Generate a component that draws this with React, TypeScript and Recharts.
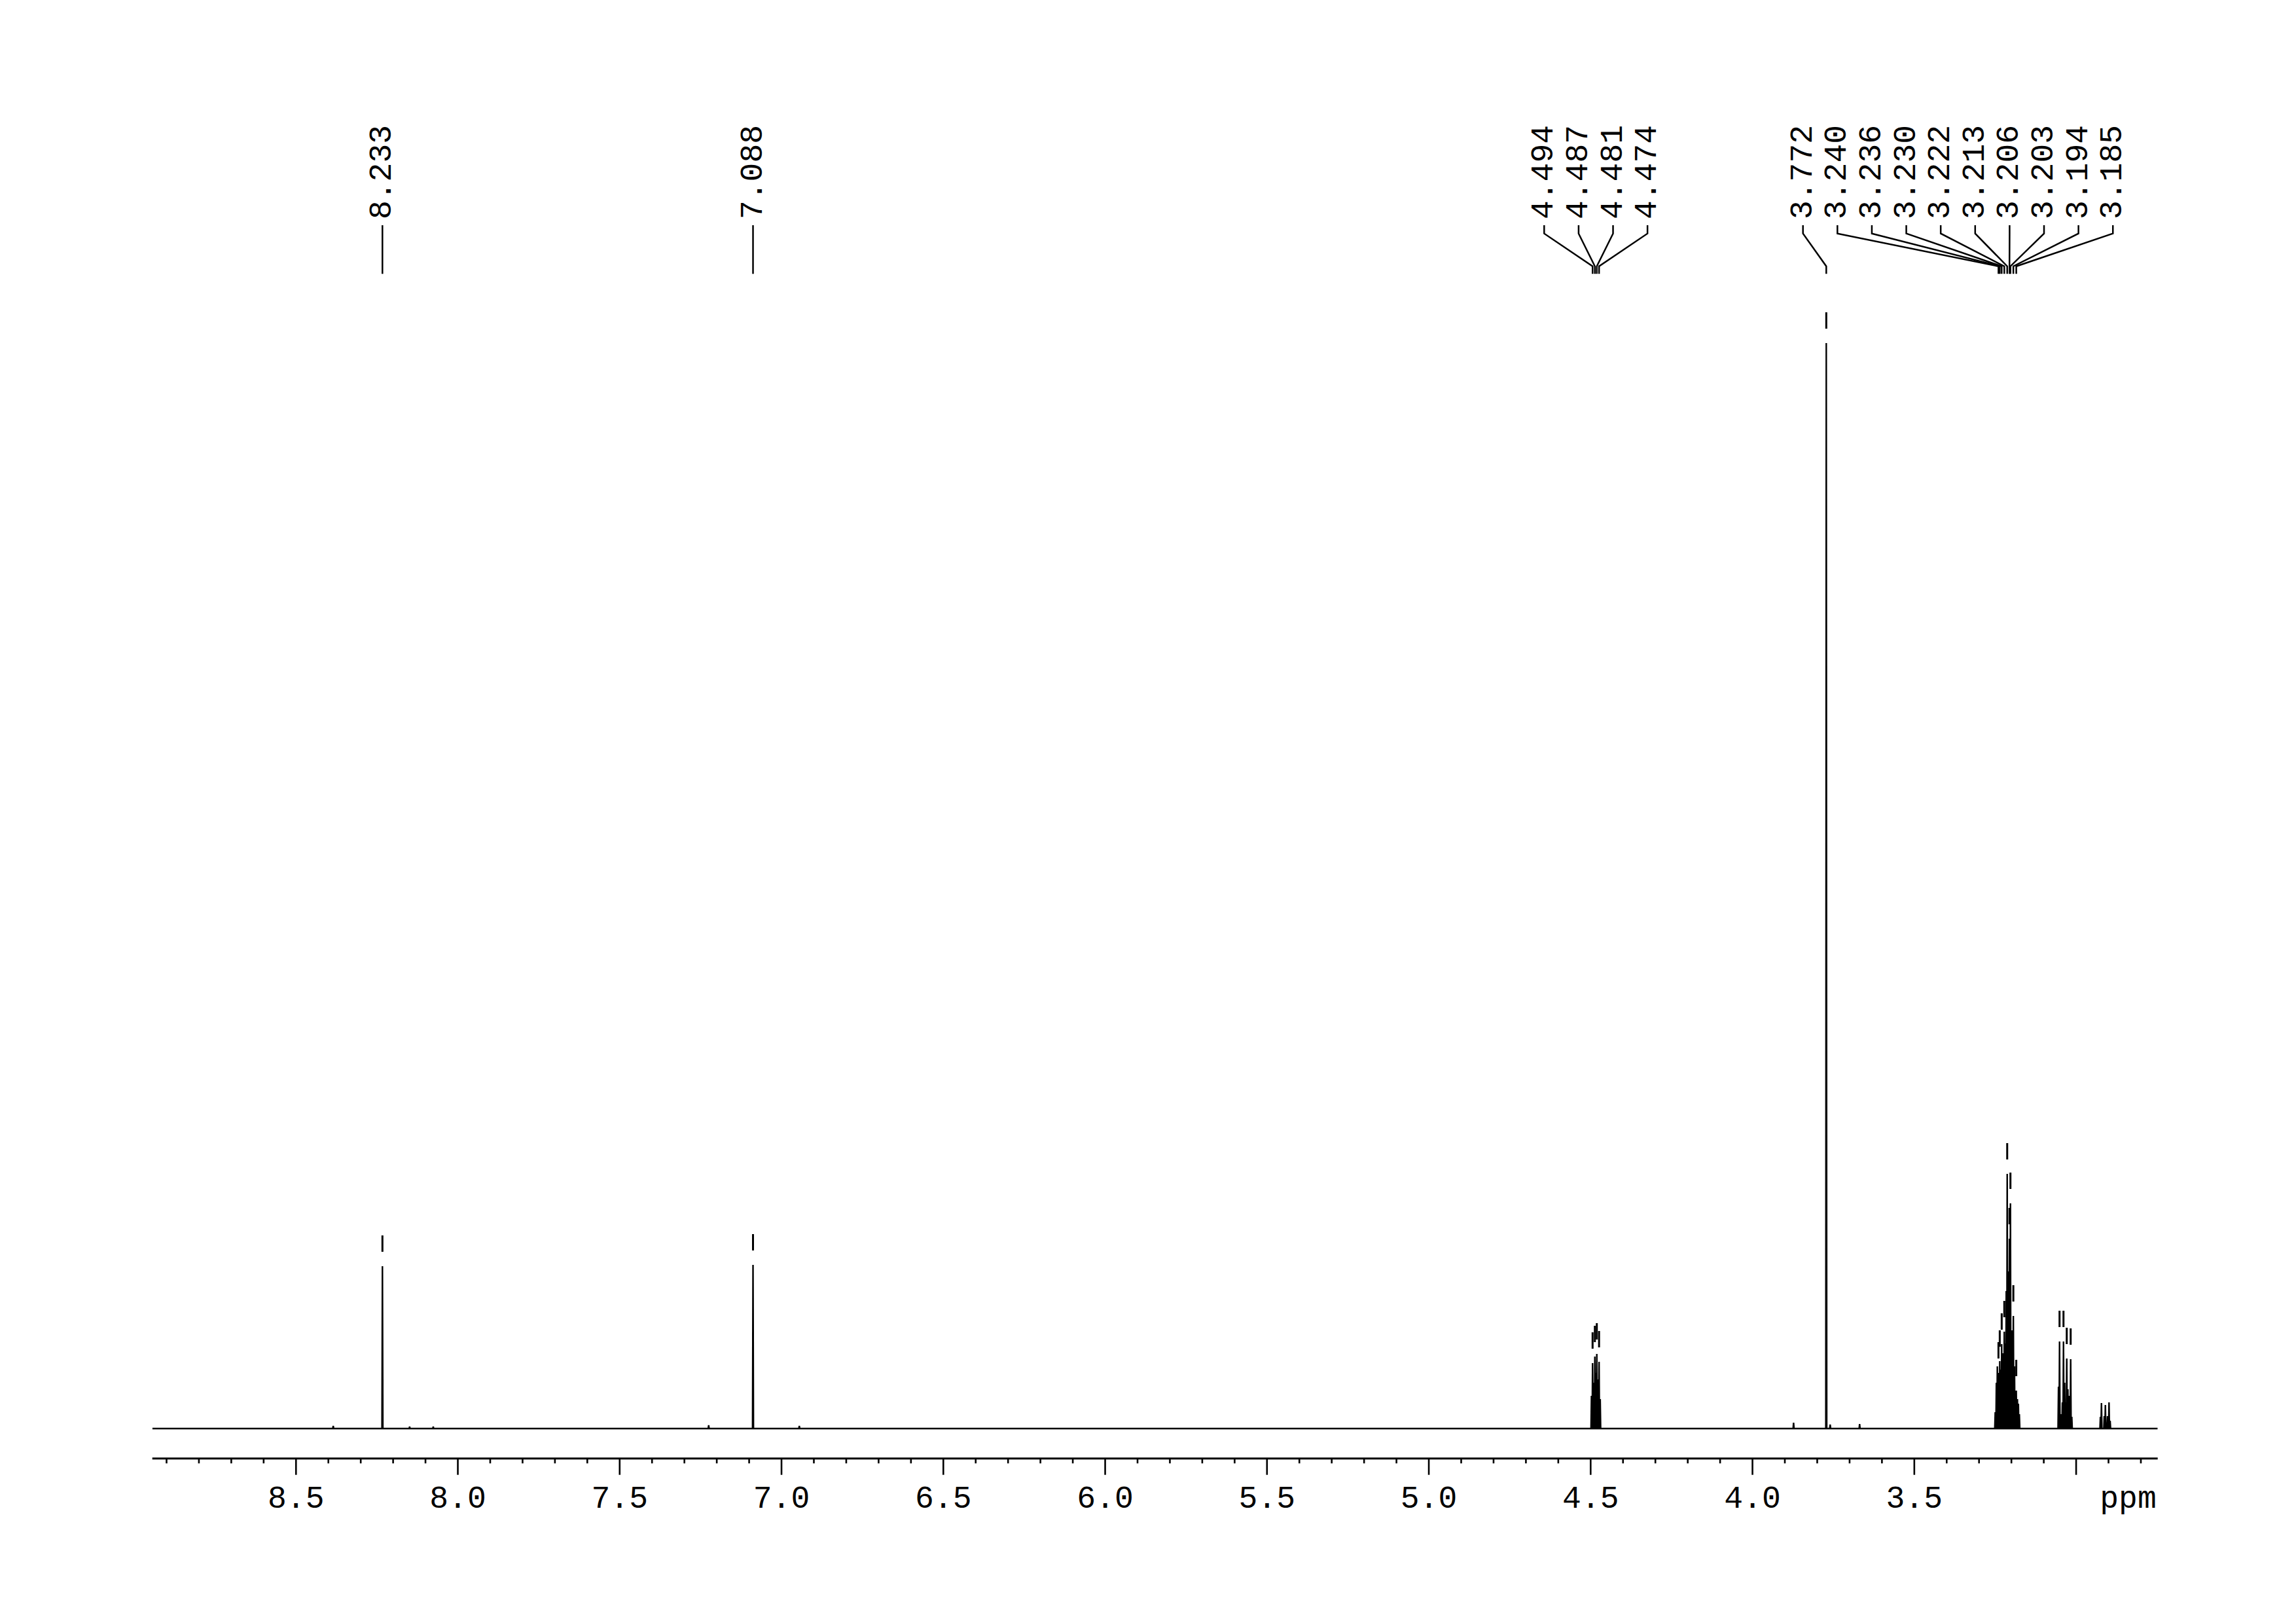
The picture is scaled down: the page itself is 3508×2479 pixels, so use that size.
import React from 'react';
import { ComposedChart, Line, XAxis, YAxis, Scatter } from 'recharts';

// ---------------- data ----------------
// picked + annotated peaks (ppm) and their heights (arbitrary intensity units)
const PICKED_SHIFTS = [8.233, 7.088, 4.494, 4.487, 4.481, 4.474, 3.772, 3.24, 3.236, 3.23, 3.222, 3.213, 3.206, 3.203, 3.194, 3.185];
const PICKED_HEIGHTS = [248, 250, 100, 110, 114, 102, 1658, 85, 103, 129, 148, 389, 290, 344, 172, 58];
const PICKED_LABELS = ['8.233', '7.088', '4.494', '4.487', '4.481', '4.474', '3.772', '3.240', '3.236', '3.230', '3.222', '3.213', '3.206', '3.203', '3.194', '3.185'];
// label groups (indices into PICKED_*)
const LABEL_GROUPS = [[0], [1], [2, 3, 4, 5], [6, 7, 8, 9, 10, 11, 12, 13, 14, 15]];

// picked (marker only) peaks of the 3.05 ppm multiplet
const MARKED_SHIFTS = [3.0513, 3.0391, 3.029, 3.0169];
const MARKED_HEIGHTS = [133, 133, 107, 106];

// other resonance lines (not picked)
const OTHER_SHIFTS = [
  8.385, 8.149, 8.076, 7.225, 6.945, 3.873, 3.76, 3.669,
  4.4975, 4.4905, 4.484, 4.4775, 4.4705,
  3.25, 3.2465, 3.2435, 3.233, 3.2265, 3.219, 3.216, 3.2095, 3.199, 3.1905, 3.1815, 3.1785, 3.1755,
  3.0545, 3.048, 3.0425, 3.0355, 3.0325, 3.0255, 3.0205, 3.0135,
  2.925, 2.9218, 2.9131, 2.9097, 2.903, 2.8984, 2.895,
];
const OTHER_HEIGHTS = [
  4, 3, 3, 5, 4, 9, 6, 7,
  50, 70, 85, 75, 45,
  25, 70, 95, 90, 115, 130, 210, 240, 150, 95, 45, 38, 22,
  64, 22, 40, 70, 40, 60, 50, 18,
  18, 39, 19, 36, 19, 40, 12,
];

const TICK_LABELS = ['8.5', '8.0', '7.5', '7.0', '6.5', '6.0', '5.5', '5.0', '4.5', '4.0', '3.5'];
const MAJOR_TICKS = [8.5, 8.0, 7.5, 7.0, 6.5, 6.0, 5.5, 5.0, 4.5, 4.0, 3.5, 3.0];
const MINOR_FIRST = 8.9;
const MINOR_LAST = 2.8;
const UNIT_LABEL = 'ppm';

// ---------------- layout / style ----------------
const W = 3508;
const H = 2479;
const X_MIN = 2.748;
const X_MAX = 8.944;
const Y_MIN = -45.7;
const Y_MAX = 2082;
const LINE_HALF_WIDTH = 0.0014;
const FONT = "'Liberation Mono', 'Courier New', monospace";
const FONT_SIZE = 48;

const LABEL_PITCH = 0.1064; // ppm between neighbouring labels
const GROUP_FIRST_SLOT = [8.233, 7.088, 4.6436, 3.844];
const LABEL_BASE = 1847;
const LEADER_TOP = 1838;
const LEADER_KNEE1 = 1825.3;
const LEADER_KNEE2 = 1775.3;
const LEADER_BOTTOM = 1763.7;
const MARK_GAP = 22;
const MARK_LEN = 25;

function buildSpectrum() {
  const lines: { s: number; h: number }[] = [];
  PICKED_SHIFTS.forEach((s, i) => lines.push({ s, h: PICKED_HEIGHTS[i] }));
  MARKED_SHIFTS.forEach((s, i) => lines.push({ s, h: MARKED_HEIGHTS[i] }));
  OTHER_SHIFTS.forEach((s, i) => lines.push({ s, h: OTHER_HEIGHTS[i] }));
  lines.sort((a, b) => b.s - a.s);
  const pts: { x: number; y: number }[] = [{ x: X_MAX, y: 0 }];
  lines.forEach((l) => {
    pts.push({ x: l.s + LINE_HALF_WIDTH, y: 0 });
    pts.push({ x: l.s, y: l.h });
    pts.push({ x: l.s - LINE_HALF_WIDTH, y: 0 });
  });
  pts.push({ x: X_MIN, y: 0 });
  return pts;
}

function buildTicks() {
  const t: number[] = [];
  const n = Math.round((MINOR_FIRST - MINOR_LAST) * 10);
  for (let i = 0; i <= n; i++) t.push(Math.round((MINOR_FIRST - i * 0.1) * 10) / 10);
  return t;
}

const Tick = (props: any) => {
  const { x, y, payload } = props;
  const v = payload.value;
  const major = MAJOR_TICKS.some((m) => Math.abs(m - v) < 1e-6);
  const label = TICK_LABELS.find((l) => Math.abs(parseFloat(l) - v) < 1e-6);
  return (
    <g>
      <line x1={x} x2={x} y1={y} y2={y + (major ? 25 : 7.5)} stroke="#000" strokeWidth={2.6} />
      {label ? (
        <text x={x} y={y + 75} textAnchor="middle" fontFamily={FONT} fontSize={FONT_SIZE} fill="#000">
          {label}
        </text>
      ) : null}
    </g>
  );
};

const PpmLabel = (props: any) => {
  const vb = props.viewBox || {};
  return (
    <text x={vb.x + vb.width - 2} y={vb.y + 75} textAnchor="end" fontFamily={FONT} fontSize={FONT_SIZE} fill="#000">
      {UNIT_LABEL}
    </text>
  );
};

const LabelShape = (props: any) => {
  const { cx, cy, payload } = props;
  return (
    <text
      x={cx}
      y={cy}
      transform={`rotate(-90 ${cx} ${cy})`}
      textAnchor="start"
      dominantBaseline="central"
      fontFamily={FONT}
      fontSize={FONT_SIZE}
      fill="#000"
    >
      {payload.label}
    </text>
  );
};

export default function App() {
  const spectrum = buildSpectrum();
  const ticks = buildTicks();

  const labels: { x: number; y: number; label: string }[] = [];
  const leaders: { x: number; y: number }[][] = [];
  LABEL_GROUPS.forEach((grp, gi) => {
    grp.forEach((idx, k) => {
      const slot = GROUP_FIRST_SLOT[gi] - k * LABEL_PITCH;
      const s = PICKED_SHIFTS[idx];
      labels.push({ x: slot, y: LABEL_BASE, label: PICKED_LABELS[idx] });
      leaders.push([
        { x: slot, y: LEADER_TOP },
        { x: slot, y: LEADER_KNEE1 },
        { x: s, y: LEADER_KNEE2 },
        { x: s, y: LEADER_BOTTOM },
      ]);
    });
  });

  const markers: { x: number; y: number }[][] = [];
  PICKED_SHIFTS.forEach((s, i) => {
    const h = PICKED_HEIGHTS[i];
    markers.push([{ x: s, y: h + MARK_GAP }, { x: s, y: h + MARK_GAP + MARK_LEN }]);
  });
  MARKED_SHIFTS.forEach((s, i) => {
    const h = MARKED_HEIGHTS[i];
    markers.push([{ x: s, y: h + MARK_GAP }, { x: s, y: h + MARK_GAP + MARK_LEN }]);
  });

  return (
    <div style={{ position: 'absolute', left: 0, top: 0, width: W, height: H, background: '#fff' }}>
      <ComposedChart width={W} height={H} margin={{ top: 100, right: 211.3, bottom: 151.3, left: 232.7 }}>
        <XAxis
          dataKey="x"
          type="number"
          domain={[X_MIN, X_MAX]}
          reversed
          allowDataOverflow
          ticks={ticks}
          interval={0}
          tick={(p: any) => <Tick {...p} />}
          tickLine={false}
          tickSize={0}
          tickMargin={0}
          axisLine={{ stroke: '#000', strokeWidth: 3 }}
          height={100}
          label={<PpmLabel />}
        />
        <YAxis dataKey="y" type="number" domain={[Y_MIN, Y_MAX]} hide allowDataOverflow />
        <Line
          data={spectrum}
          dataKey="y"
          type="linear"
          stroke="#000"
          strokeWidth={2.4}
          dot={false}
          activeDot={false}
          isAnimationActive={false}
          legendType="none"
        />
        {leaders.map((d, i) => (
          <Line
            key={'ld' + i}
            data={d}
            dataKey="y"
            type="linear"
            stroke="#000"
            strokeWidth={2.5}
            dot={false}
            activeDot={false}
            isAnimationActive={false}
            legendType="none"
          />
        ))}
        {markers.map((d, i) => (
          <Line
            key={'mk' + i}
            data={d}
            dataKey="y"
            type="linear"
            stroke="#000"
            strokeWidth={3}
            dot={false}
            activeDot={false}
            isAnimationActive={false}
            legendType="none"
          />
        ))}
        <Scatter data={labels} dataKey="y" shape={(p: any) => <LabelShape {...p} />} isAnimationActive={false} legendType="none" />
      </ComposedChart>
    </div>
  );
}
